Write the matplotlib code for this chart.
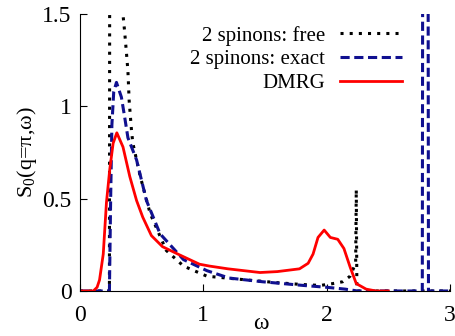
import matplotlib
matplotlib.use("Agg")
import matplotlib.pyplot as plt
import numpy as np

plt.rcParams['font.family'] = ['Liberation Serif', 'DejaVu Serif']
plt.rcParams['mathtext.fontset'] = 'custom'
plt.rcParams['mathtext.rm'] = 'Liberation Serif'
plt.rcParams['mathtext.it'] = 'Liberation Serif:italic'

# free 2-spinon (black dotted)
w_free = [0.0, 0.240, 0.243, 0.30, 0.351, 0.364, 0.378, 0.39, 0.40, 0.42, 0.43, 0.49, 0.57,
          0.70, 0.84, 1.03, 1.35, 1.6, 1.8, 1.95, 2.05, 2.13, 2.19, 2.235, 2.24, 2.245, 3.0]
s_free = [0.0, 0.0, 2.5, 4.0, 1.49, 1.40, 1.29, 1.19, 1.03, 0.86, 0.80, 0.62, 0.42,
          0.22, 0.135, 0.08, 0.06, 0.045, 0.035, 0.03, 0.04, 0.05, 0.08, 0.15, 0.55, 0.0, 0.0]

# exact 2-spinon (navy dashed)
w_exact = [0.0, 0.24, 0.25, 0.26, 0.275, 0.297, 0.337, 0.364, 0.39, 0.46, 0.54, 0.65, 0.84,
           1.03, 1.21, 1.48, 1.81, 2.0, 2.15, 2.25, 2.775, 2.78, 2.82, 2.825, 3.0]
s_exact = [0.0, 0.0, 0.5, 0.9, 1.08, 1.13, 1.05, 0.94, 0.83, 0.71, 0.49, 0.31, 0.17,
           0.11, 0.07, 0.05, 0.03, 0.02, 0.01, 0.0, 0.0, 3.0, 3.0, 0.0, 0.0]

# DMRG (red)
w_dmrg = [0.0, 0.11, 0.14, 0.16, 0.19, 0.216, 0.243, 0.27, 0.30, 0.35, 0.405, 0.46, 0.51,
          0.58, 0.67, 0.81, 0.89, 0.97, 1.05, 1.2, 1.46, 1.6, 1.78, 1.85, 1.89, 1.93, 1.98,
          2.03, 2.09, 2.14, 2.19, 2.24, 2.32, 2.4, 2.5]
s_dmrg = [0.0, 0.0, 0.02, 0.06, 0.20, 0.48, 0.66, 0.80, 0.857, 0.78, 0.62, 0.49, 0.40,
          0.30, 0.24, 0.195, 0.17, 0.145, 0.135, 0.12, 0.10, 0.105, 0.12, 0.15, 0.20, 0.29,
          0.33, 0.29, 0.28, 0.23, 0.13, 0.04, 0.01, 0.0, 0.0]

xticks = [0, 1, 2, 3]
yticks = [0, 0.5, 1, 1.5]
yticklabels = ['0', '0.5', '1', '1.5']

fig = plt.figure(figsize=(4.56, 3.36), dpi=100)
ax = fig.add_axes([0.175, 0.134, 0.812, 0.824])

ax.plot(w_free, s_free, color='black', linestyle=(0, (1, 2)), linewidth=2.2,
        label='2 spinons: free')
ax.plot(w_exact, s_exact, color='#101090', linestyle=(0, (3, 1.5)), linewidth=2.2,
        label='2 spinons: exact')
ax.plot(w_dmrg, s_dmrg, color='#ff0000', linewidth=2.0, label='DMRG')

ax.set_xlim(0, 3)
ax.set_ylim(0, 1.5)
ax.set_xticks(xticks)
ax.set_xticklabels([str(t) for t in xticks])
ax.set_yticks(yticks)
ax.set_yticklabels(yticklabels)
ax.tick_params(direction='in', length=5, labelsize=17)
ax.tick_params(axis='x', pad=10)
ax.tick_params(axis='y', pad=6)
ax.spines['top'].set_visible(False)
ax.spines['right'].set_visible(False)

ax.set_xlabel(r'ω', fontsize=17)
ax.xaxis.set_label_coords(0.49, -0.08)
ax.set_ylabel(r'S$_\mathrm{0}$(q=π,ω)', fontsize=16, labelpad=2)

leg = ax.legend(loc='upper right', bbox_to_anchor=(0.905, 1.003), frameon=False,
                fontsize=15, markerfirst=False, handlelength=3.0,
                labelspacing=0.2, borderaxespad=0.2, handletextpad=0.7)

fig.savefig('out.png', dpi=100)
